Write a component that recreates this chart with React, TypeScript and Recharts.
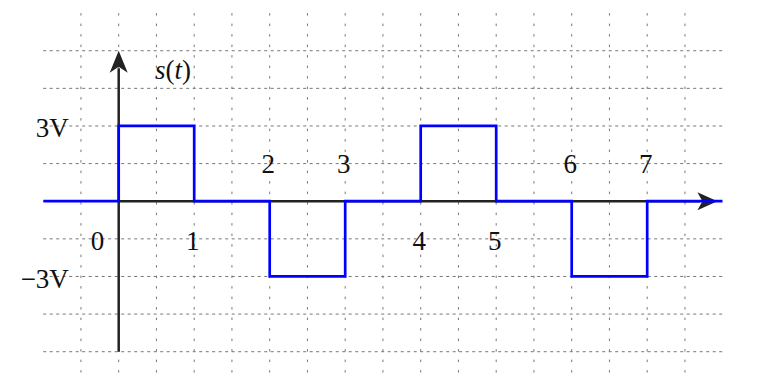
import {
  LineChart,
  Line,
  XAxis,
  YAxis,
  CartesianGrid,
  ReferenceLine,
  ReferenceDot,
} from 'recharts'

// square wave s(t), t in units of T
const signalT = [-1, 0, 1, 2, 3, 4, 5, 6, 7, 8]
const signalV = [0, 3, 0, -3, 0, 3, 0, -3, 0, 0]

// dotted grid positions
const gridT = [-0.5, 0, 0.5, 1, 1.5, 2, 2.5, 3, 3.5, 4, 4.5, 5, 5.5, 6, 6.5, 7, 7.5]
const gridV = [-6, -4.5, -3, -1.5, 0, 1.5, 3, 4.5, 6]

// time labels along the axis
const tLabels = ['0', '1', '2', '3', '4', '5', '6', '7']
const tLabelT = [-0.28, 0.98, 1.98, 2.98, 3.98, 4.98, 5.98, 6.98]
const tLabelV = [-1.6, -1.6, 1.5, 1.5, -1.6, -1.6, 1.5, 1.5]

// voltage labels
const vLabels = ['3V', '\u22123V']
const vLabelV = [3, -3]

const data = signalT.map((t, i) => ({ t, v: signalV[i] }))

const FONT = "'Liberation Serif', 'DejaVu Serif', serif"
const AXIS = '#222'
const FS = 27

function ArrowUp(props: any) {
  const { cx, cy } = props
  if (cx == null || cy == null) return null
  return <path d={`M${cx},${cy} L${cx - 9},${cy + 22} L${cx},${cy + 16} L${cx + 9},${cy + 22} Z`} fill={AXIS} />
}

function ArrowRight(props: any) {
  const { cx, cy } = props
  if (cx == null || cy == null) return null
  return <path d={`M${cx},${cy} L${cx - 20},${cy - 9} L${cx - 15},${cy} L${cx - 20},${cy + 9} Z`} fill={AXIS} />
}

// text drawn at a data point; parts alternate upright / italic as given
function makeText(parts: [string, boolean][], anchor: 'start' | 'middle' | 'end') {
  return (props: any) => {
    const { cx, cy } = props
    if (cx == null || cy == null) return null
    return (
      <text
        x={cx}
        y={cy}
        textAnchor={anchor}
        dominantBaseline="central"
        fontFamily={FONT}
        fontSize={FS}
        fill="#111"
      >
        {parts.map(([s, it], i) => (
          <tspan key={i} fontStyle={it ? 'italic' : 'normal'}>{s}</tspan>
        ))}
      </text>
    )
  }
}

export default function App() {
  return (
    <div style={{ position: 'absolute', left: 0, top: 0, background: '#fff' }}>
      <LineChart
        width={782}
        height={382}
        data={data}
        margin={{ top: 13.1, right: 59.3, left: 43.2, bottom: 5.2 }}
      >
        <XAxis type="number" dataKey="t" domain={[-1, 8]} allowDataOverflow hide />
        <YAxis type="number" domain={[-7, 7.5]} allowDataOverflow hide />

        <CartesianGrid horizontal={false} verticalValues={gridT} stroke="#777" strokeDasharray="2.5 8" />
        <CartesianGrid vertical={false} horizontalValues={gridV} stroke="#777" strokeDasharray="3 3.5" />

        {/* axes */}
        <ReferenceLine segment={[{ x: 0, y: -6 }, { x: 0, y: 5.3 }]} stroke={AXIS} strokeWidth={2.5} zIndex={300} />
        <ReferenceLine segment={[{ x: 0, y: 0 }, { x: 7.7, y: 0 }]} stroke={AXIS} strokeWidth={2.5} zIndex={300} />
        <ReferenceDot x={0} y={6} r={0} shape={<ArrowUp />} zIndex={300} />
        <ReferenceDot x={7.93} y={0} r={0} shape={<ArrowRight />} zIndex={300} />

        <Line
          type="stepAfter"
          dataKey="v"
          stroke="#0000ff"
          strokeWidth={2.7}
          dot={false}
          activeDot={false}
          isAnimationActive={false}
        />

        {tLabels.map((s, i) => (
          <ReferenceDot key={'t' + s} x={tLabelT[i]} y={tLabelV[i]} r={0} shape={makeText([[s, false]], 'middle')} zIndex={2000} />
        ))}
        {vLabels.map((s, i) => (
          <ReferenceDot key={'v' + s} x={-0.66} y={vLabelV[i] - 0.1} r={0} shape={makeText([[s, false]], 'end')} zIndex={2000} />
        ))}
        <ReferenceDot
          x={0.72}
          y={5.25}
          r={0}
          shape={makeText([['s', true], ['(', false], ['t', true], [')', false]], 'middle')}
          zIndex={2000}
        />
        <ReferenceDot
          x={8.14}
          y={-0.05}
          r={0}
          shape={makeText([['t', true], ['/T', false]], 'start')}
          zIndex={2000}
        />
      </LineChart>
    </div>
  )
}
